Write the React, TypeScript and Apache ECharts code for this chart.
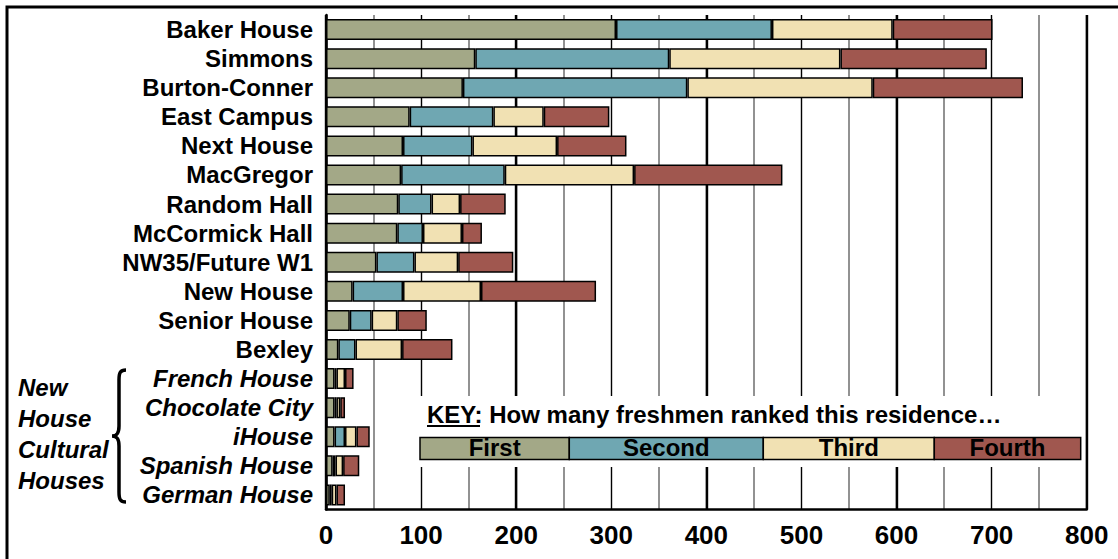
import React, { useEffect, useRef } from "react";
import * as echarts from "echarts";

const categories = [
  "Baker House", "Simmons", "Burton-Conner", "East Campus", "Next House", "MacGregor",
  "Random Hall", "McCormick Hall", "NW35/Future W1", "New House", "Senior House", "Bexley",
  "French House", "Chocolate City", "iHouse", "Spanish House", "German House",
];
const culturalStart = 12;
const seriesNames = ["First", "Second", "Third", "Fourth"];
const firstVals = [305, 157, 144, 88, 81, 79, 76, 75, 53, 28, 25, 13, 9, 9, 9, 7, 4];
const secondVals = [164, 204, 236, 88, 73, 109, 35, 27, 40, 53, 23, 18, 2, 2, 11, 3, 2];
const thirdVals = [127, 180, 195, 53, 89, 136, 30, 41, 46, 82, 27, 49, 9, 4, 12, 8, 5];
const fourthVals = [105, 154, 158, 69, 73, 156, 48, 21, 58, 121, 31, 53, 9, 5, 14, 17, 9];
const xTicks = [0, 100, 200, 300, 400, 500, 600, 700, 800];
const keyTitle = "KEY: How many freshmen ranked this residence\u2026";
const groupLabel = ["New", "House", "Cultural", "Houses"];

const COLORS = ["#A3A887", "#6FA7B2", "#F1E1B3", "#A0574F"];
const FONT = "'Liberation Sans', Arial, Helvetica, sans-serif";

const bracePath =
  "M14 0 C8 0 7 3 7 10 L7 56 C7 63 5 66 0 66 C5 66 7 69 7 76 L7 122 C7 129 8 132 14 132";
let braceRegistered = false;

export default function App() {
  const ref = useRef<HTMLDivElement>(null);
  useEffect(() => {
    if (!ref.current) return;
    if (!braceRegistered) {
      echarts.graphic.registerShape("brace", echarts.graphic.extendPath(bracePath, {}));
      braceRegistered = true;
    }
    const chart = echarts.init(ref.current, null, { renderer: "svg" });
    const data = [firstVals, secondVals, thirdVals, fourthVals];

    const keyX = [420, 569.3, 763.3, 934.3, 1080.7];
    const keyY = 437.5;
    const keyH = 22;

    const graphic: any[] = [
      {
        type: "rect",
        shape: { x: 7, y: 7, width: 1300, height: 800 },
        style: { fill: "none", stroke: "#000", lineWidth: 3 },
        z: 100,
      },
      {
        type: "rect",
        shape: { x: 414, y: 396, width: 670, height: 71 },
        style: { fill: "#fff" },
        z: 100,
      },
      {
        type: "text",
        x: 427,
        y: 414,
        style: {
          text: keyTitle,
          font: `bold 24px ${FONT}`,
          fill: "#000",
          verticalAlign: "middle",
          align: "left",
        },
        z: 101,
      },
      {
        type: "line",
        shape: { x1: 427, y1: 426, x2: 480, y2: 426 },
        style: { stroke: "#000", lineWidth: 2 },
        z: 101,
      },
      {
        type: "brace",
        x: 112,
        y: 370,
        style: { fill: "none", stroke: "#000", lineWidth: 3.5 },
        z: 101,
      },
    ];
    seriesNames.forEach((name, i) => {
      graphic.push({
        type: "rect",
        shape: { x: keyX[i], y: keyY, width: keyX[i + 1] - keyX[i], height: keyH },
        style: { fill: COLORS[i], stroke: "#000", lineWidth: 1.5 },
        z: 101,
      });
      graphic.push({
        type: "text",
        x: (keyX[i] + keyX[i + 1]) / 2,
        y: keyY + keyH / 2 - 1,
        style: {
          text: name,
          font: `bold 24px ${FONT}`,
          fill: "#000",
          align: "center",
          verticalAlign: "middle",
        },
        z: 102,
      });
    });
    groupLabel.forEach((t, i) => {
      graphic.push({
        type: "text",
        x: 18,
        y: 387 + i * 31.3,
        style: {
          text: t,
          font: `italic bold 24px ${FONT}`,
          fill: "#000",
          align: "left",
          verticalAlign: "middle",
        },
        z: 101,
      });
    });

    chart.setOption({
      animation: false,
      backgroundColor: "#fff",
      grid: { left: 326, right: 31.3, top: 15, bottom: 49.5, containLabel: false },
      xAxis: [
        {
          type: "value",
          min: 0,
          max: 800,
          interval: 100,
          position: "bottom",
          axisLine: { show: true, onZero: false, lineStyle: { color: "#000", width: 2.5 } },
          axisTick: { show: false },
          axisLabel: {
            margin: 12,
            fontSize: 26,
            fontWeight: "bold",
            fontFamily: FONT,
            color: "#000",
            formatter: (v: number) => (xTicks.includes(v) ? String(v) : ""),
          },
          splitLine: { show: true, lineStyle: { color: "#000", width: 1.4 } },
          minorTick: { show: false, splitNumber: 2 },
          minorSplitLine: { show: true, lineStyle: { color: "#6e6e6e", width: 1.5 } },
        },
        {
          type: "value",
          min: 0,
          max: 800,
          interval: 200,
          position: "top",
          axisLine: { show: false },
          axisTick: { show: false },
          axisLabel: { show: false },
          splitLine: { show: true, lineStyle: { color: "#000", width: 2.4 } },
        },
      ],
      yAxis: {
        type: "category",
        data: categories,
        inverse: true,
        axisLine: { show: true, lineStyle: { color: "#000", width: 2.5 } },
        axisTick: { show: false },
        axisLabel: {
          margin: 13,
          formatter: (v: string, idx: number) => (idx >= culturalStart ? `{i|${v}}` : `{n|${v}}`),
          rich: {
            n: { fontSize: 24, fontWeight: "bold", fontFamily: FONT, color: "#000" },
            i: { fontSize: 24, fontWeight: "bold", fontStyle: "italic", fontFamily: FONT, color: "#000" },
          },
        },
      },
      series: seriesNames.map((name, i) => ({
        name,
        type: "bar",
        stack: "total",
        xAxisIndex: 0,
        barWidth: 21,
        data: data[i],
        itemStyle: { color: COLORS[i], borderColor: "#000", borderWidth: 1.5 },
      })),
      graphic,
    });
    return () => chart.dispose();
  }, []);
  return (
    <div
      ref={ref}
      style={{ position: "fixed", left: 0, top: 0, width: 1118, height: 559, background: "#fff" }}
    />
  );
}
